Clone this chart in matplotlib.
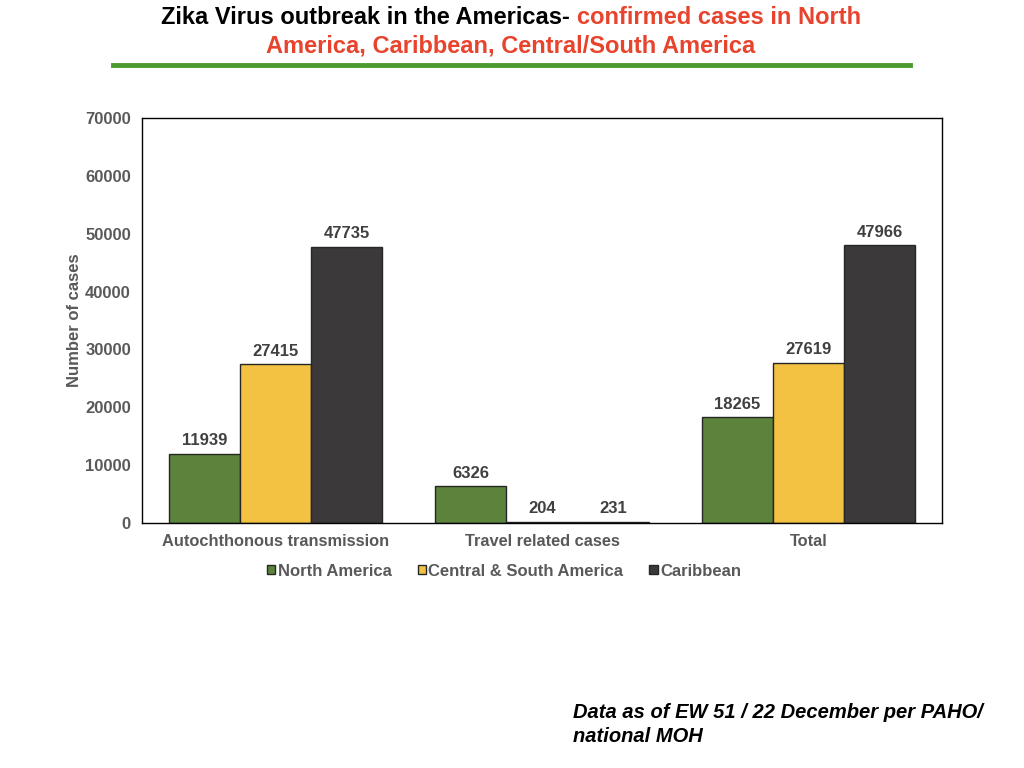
import matplotlib
matplotlib.use("Agg")
import matplotlib.pyplot as plt
import numpy as np

categories = ["Autochthonous transmission", "Travel related cases", "Total"]
series_names = ["North America", "Central & South America", "Caribbean"]
north_america = [11939, 6326, 18265]
central_south = [27415, 204, 27619]
caribbean = [47735, 231, 47966]
colors = ["#5b833b", "#f4c242", "#3b393a"]
yticks = [0, 10000, 20000, 30000, 40000, 50000, 60000, 70000]

plt.rcParams['font.family'] = ['Liberation Sans', 'DejaVu Sans']

fig = plt.figure(figsize=(10.24, 7.68), dpi=100)
ax = fig.add_axes([142/1024, 1-523/768, 800/1024, 405/768])

x = np.arange(len(categories))
w = 0.8/3
gray = "#595959"
for i, (vals, name) in enumerate(zip([north_america, central_south, caribbean], series_names)):
    bars = ax.bar(x + (i-1)*w, vals, w, color=colors[i], edgecolor="#262626", linewidth=1.0, label=name)
    for b, v in zip(bars, vals):
        ax.text(b.get_x()+b.get_width()/2, v + 1000, str(v), ha="center", va="bottom",
                fontsize=12, fontweight="bold", color="#404040")

ax.set_xlim(-0.5, 2.5)
ax.set_ylim(0, 70000)
ax.set_yticks(yticks)
ax.set_yticklabels([str(t) for t in yticks], fontsize=12, fontweight="bold", color=gray)
ax.set_xticks(x)
ax.set_xticklabels(categories, fontsize=11.8, fontweight="bold", color=gray)
ax.tick_params(axis="y", length=0, pad=8)
ax.tick_params(axis="x", length=0, pad=8)
for s in ax.spines.values():
    s.set_color("black")
    s.set_linewidth(1.0)
ax.set_ylabel("Number of cases", fontsize=12, fontweight="bold", color=gray, labelpad=2)

leg = fig.legend(*ax.get_legend_handles_labels(), loc="center left",
                 bbox_to_anchor=(267/1024, 1-571/768), ncol=3, frameon=False,
                 borderpad=0, borderaxespad=0,
                 prop={"size": 12, "weight": "bold"},
                 handlelength=0.5, handleheight=0.5, handletextpad=0.15, columnspacing=1.55)
for t in leg.get_texts():
    t.set_color(gray)
for h in leg.legend_handles:
    h.set_edgecolor("#262626")

# Title
tfam = ['Liberation Sans Narrow', 'Liberation Sans', 'DejaVu Sans']
fs = 17
part1 = "Zika Virus outbreak in the Americas- "
part2 = "confirmed cases in North"
fig.canvas.draw()
r = fig.canvas.get_renderer()
t1 = fig.text(0, 0, part1, fontsize=fs, fontweight="bold", family=tfam)
t2 = fig.text(0, 0, part2, fontsize=fs, fontweight="bold", family=tfam)
w1 = t1.get_window_extent(r).width
w2 = t2.get_window_extent(r).width
total = w1 + w2
cx = 511
start = cx - total/2
y1 = 1 - 17/768
t1.set_position((start/1024, y1)); t1.set_va("center"); t1.set_color("black")
t2.set_position(((start+w1)/1024, y1)); t2.set_va("center"); t2.set_color("#e8432d")
fig.text(cx/1024, 1-46/768, "America, Caribbean, Central/South America", fontsize=fs, fontweight="bold",
         family=tfam, color="#e8432d", ha="center", va="center")

fig.add_artist(plt.Line2D([113/1024, 910/1024], [1-65/768, 1-65/768], color="#4a9a2e", linewidth=3.5))

fig.text(573/1024, 1-713/768, "Data as of EW 51 / 22 December per PAHO/", fontsize=14.5, fontweight="bold",
         fontstyle="italic", va="center", ha="left")
fig.text(573/1024, 1-737/768, "national MOH", fontsize=14.5, fontweight="bold",
         fontstyle="italic", va="center", ha="left")

fig.savefig("out.png", dpi=100)
